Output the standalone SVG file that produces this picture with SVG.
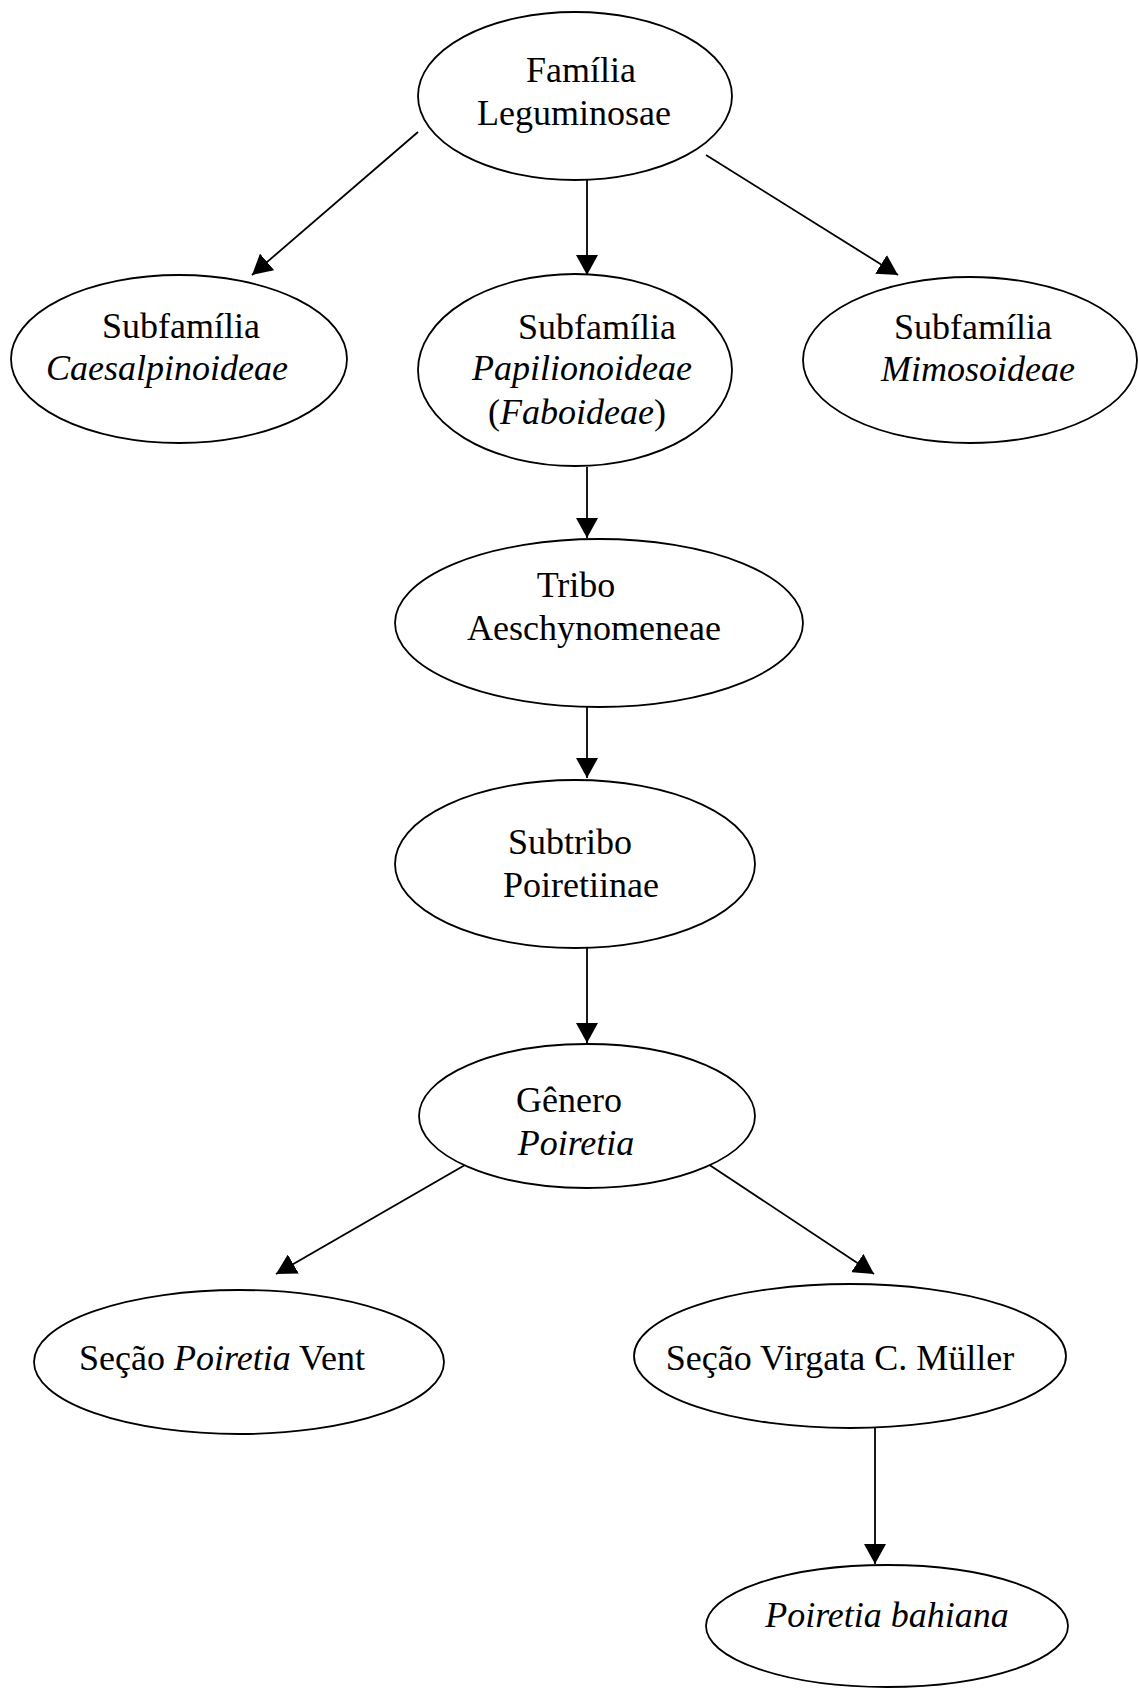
<svg xmlns="http://www.w3.org/2000/svg" width="1138" height="1689" viewBox="0 0 1138 1689">
<style>
.n{fill:#fff;stroke:#000;stroke-width:1.8}
.t{font-family:"Liberation Serif","Times New Roman",serif;font-size:36px;fill:#000;text-anchor:middle}
.i{font-style:italic}
.c{stroke:#000;stroke-width:1.8;fill:none;marker-end:url(#ah)}
</style>
<defs>
<marker id="ah" markerUnits="userSpaceOnUse" markerWidth="20" markerHeight="22" refX="20" refY="11" orient="auto" viewBox="0 0 20 22">
<path d="M0,0 L20,11 L0,22 z" fill="#000"/>
</marker>
</defs>
<rect width="1138" height="1689" fill="#fff"/>
<g id="connectors">
<line class="c" x1="418" y1="132" x2="252" y2="275"/>
<line class="c" x1="587" y1="180" x2="587" y2="275"/>
<line class="c" x1="706" y1="155" x2="898" y2="275"/>
<line class="c" x1="587" y1="467" x2="587" y2="538"/>
<line class="c" x1="587" y1="707" x2="587" y2="778"/>
<line class="c" x1="587" y1="947" x2="587" y2="1043"/>
<line class="c" x1="465" y1="1165" x2="276" y2="1274"/>
<line class="c" x1="708" y1="1164" x2="874" y2="1274"/>
<line class="c" x1="875" y1="1428" x2="875" y2="1564"/>
</g>
<g id="familia">
<ellipse class="n" cx="575" cy="96" rx="157" ry="84"/>
<text class="t" x="581" y="82">Família</text>
<text class="t" x="574" y="125">Leguminosae</text>
</g>
<g id="caesalpinoideae">
<ellipse class="n" cx="179" cy="359" rx="168" ry="84"/>
<text class="t" x="181" y="338">Subfamília</text>
<text class="t i" x="167" y="380">Caesalpinoideae</text>
</g>
<g id="papilionoideae">
<ellipse class="n" cx="575" cy="370" rx="157" ry="96"/>
<text class="t" x="597" y="339">Subfamília</text>
<text class="t i" x="582" y="380">Papilionoideae</text>
<text class="t" x="577" y="424">(<tspan class="i">Faboideae</tspan>)</text>
</g>
<g id="mimosoideae">
<ellipse class="n" cx="970" cy="360" rx="167" ry="83"/>
<text class="t" x="973" y="339">Subfamília</text>
<text class="t i" x="978" y="381">Mimosoideae</text>
</g>
<g id="tribo">
<ellipse class="n" cx="599" cy="623" rx="204" ry="84"/>
<text class="t" x="576" y="597">Tribo</text>
<text class="t" x="594" y="640">Aeschynomeneae</text>
</g>
<g id="subtribo">
<ellipse class="n" cx="575" cy="864" rx="180" ry="84"/>
<text class="t" x="570" y="854">Subtribo</text>
<text class="t" x="581" y="897">Poiretiinae</text>
</g>
<g id="genero">
<ellipse class="n" cx="587" cy="1116" rx="168" ry="72"/>
<text class="t" x="569" y="1112">Gênero</text>
<text class="t i" x="576" y="1155">Poiretia</text>
</g>
<g id="secao-poiretia">
<ellipse class="n" cx="239" cy="1362" rx="205" ry="72"/>
<text class="t" x="222" y="1370">Seção <tspan class="i">Poiretia</tspan> Vent</text>
</g>
<g id="secao-virgata">
<ellipse class="n" cx="850" cy="1356" rx="216" ry="72"/>
<text class="t" x="840" y="1370">Seção Virgata C. Müller</text>
</g>
<g id="poiretia-bahiana">
<ellipse class="n" cx="887" cy="1626" rx="181" ry="61"/>
<text class="t i" x="887" y="1627">Poiretia bahiana</text>
</g>
</svg>
